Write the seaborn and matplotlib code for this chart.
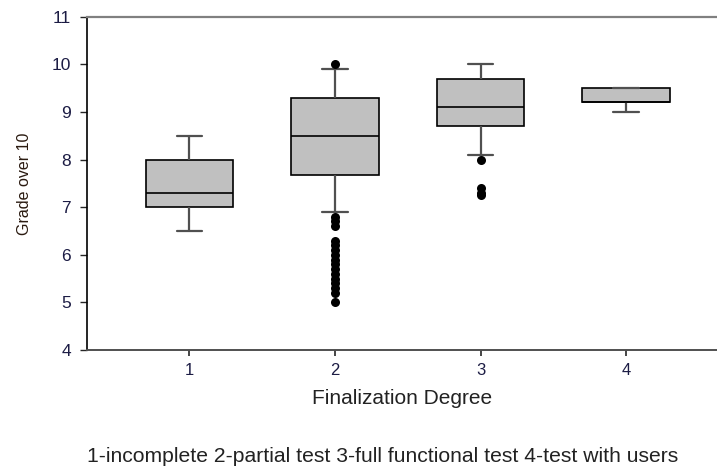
import pandas as pd
import seaborn as sns
import matplotlib.pyplot as plt
import matplotlib.colors as mcolors

# five-number summaries (whisker low, Q1, median, Q3, whisker high)
degrees = ["1", "2", "3", "4"]
whisker_low = [6.5, 6.9, 8.1, 9.0]
q1 = [7.0, 7.67, 8.7, 9.2]
median = [7.3, 8.5, 9.1, 9.2]
q3 = [8.0, 9.3, 9.7, 9.5]
whisker_high = [8.5, 9.9, 10.0, 9.5]

# outliers drawn as dots
outliers_2 = [10.0, 6.8, 6.7, 6.6, 6.3, 6.2, 6.1, 6.0, 5.9, 5.8, 5.7, 5.6, 5.5, 5.4, 5.3, 5.2, 5.0]
outliers_3 = [8.0, 7.4, 7.3, 7.25]

rows = []
for i, d in enumerate(degrees):
    for v in [whisker_low[i], q1[i], median[i], q3[i], whisker_high[i]]:
        rows.append({"degree": d, "grade": v})
df = pd.DataFrame(rows)

out = pd.DataFrame({
    "degree": ["2"] * len(outliers_2) + ["3"] * len(outliers_3),
    "grade": outliers_2 + outliers_3,
})

sns.set_style("white")
plt.rcParams['font.family'] = ['Liberation Sans', 'DejaVu Sans']

fig = plt.figure(figsize=(7.17, 4.67), dpi=100)
ax = fig.add_axes([0.1213, 0.2505, 0.8787, 0.7137])

cap_color = "#505050"
sns.boxplot(data=df, x="degree", y="grade", order=degrees, whis=(0, 100),
            width=0.6, color="#C0C0C0", saturation=1, linecolor="black",
            linewidth=1.2, ax=ax,
            whiskerprops={"color": cap_color, "linewidth": 1.6},
            capprops={"color": cap_color, "linewidth": 1.6})

# shorter caps, like the original
for line in ax.lines:
    xs, ys = line.get_xdata(), line.get_ydata()
    if len(xs) == 2 and ys[0] == ys[1] and mcolors.to_hex(line.get_color()) == cap_color:
        c = (xs[0] + xs[1]) / 2
        half = abs(xs[1] - xs[0]) / 2 * 0.58
        line.set_xdata([c - half, c + half])

sns.stripplot(data=out, x="degree", y="grade", order=degrees, jitter=False,
              color="black", size=6.5, ax=ax)

ax.set_ylim(4, 11)
ax.set_xlim(-0.704, 3.625)
ax.set_yticks(range(4, 12))

ax.set_xlabel("Finalization Degree", fontsize=15, color="#222222", labelpad=8)
ax.set_ylabel("Grade over 10", fontsize=11.5, color="#2a1a10", labelpad=14)
ax.tick_params(axis="y", direction="out", length=5, width=1, labelsize=12.5,
               labelcolor="#1c1c44", left=True, pad=6.5)
ax.tick_params(axis="x", direction="out", length=4, width=1.2, labelsize=12,
               labelcolor="#1c1c44", bottom=True, pad=5)

ax.spines["right"].set_visible(False)
ax.spines["top"].set_color("#808080")
ax.spines["top"].set_linewidth(1.6)
ax.spines["left"].set_color("black")
ax.spines["left"].set_linewidth(1.2)
ax.spines["bottom"].set_color("#505050")
ax.spines["bottom"].set_linewidth(1.4)

fig.text(0.5335, 0.0107, "1-incomplete 2-partial test 3-full functional test 4-test with users",
         ha="center", va="baseline", fontsize=15.2, color="#222222")

fig.savefig("out.png", dpi=100)
